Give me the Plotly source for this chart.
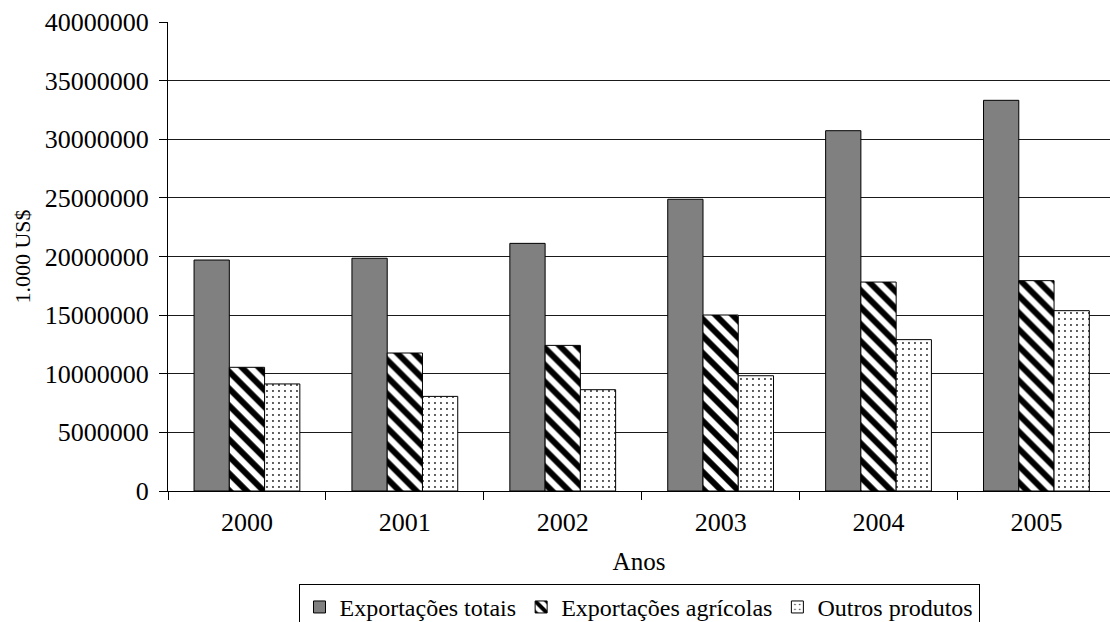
import plotly.graph_objects as go

# Exportações por ano (valores em 1.000 US$)
anos = ["2000", "2001", "2002", "2003", "2004", "2005"]
exportacoes_totais = [19700000, 19850000, 21120000, 24880000, 30730000, 33320000]
exportacoes_agricolas = [10550000, 11770000, 12420000, 15010000, 17820000, 17940000]
outros_produtos = [9130000, 8070000, 8640000, 9830000, 12910000, 15380000]

y_ticks = [0, 5000000, 10000000, 15000000, 20000000, 25000000, 30000000, 35000000, 40000000]

FONT = "Times New Roman"

fig = go.Figure()

fig.add_trace(go.Bar(
    name="Exportações totais",
    x=anos, y=exportacoes_totais,
    marker=dict(color="#808080", line=dict(color="#000000", width=1)),
))
fig.add_trace(go.Bar(
    name="Exportações agrícolas",
    x=anos, y=exportacoes_agricolas,
    marker=dict(
        color="#ffffff",
        line=dict(color="#000000", width=1),
        pattern=dict(shape="\\", fgcolor="#000000", bgcolor="#ffffff",
                     fgopacity=1, size=12, solidity=0.5, fillmode="replace"),
    ),
))
fig.add_trace(go.Bar(
    name="Outros produtos",
    x=anos, y=outros_produtos,
    marker=dict(
        color="#ffffff",
        line=dict(color="#000000", width=1),
        pattern=dict(shape=".", fgcolor="#222222", bgcolor="#ffffff",
                     size=6, solidity=0.08, fillmode="replace"),
    ),
))

fig.update_layout(
    width=1110, height=622,
    margin=dict(l=168, r=0, t=22, b=131, autoexpand=False),
    paper_bgcolor="#ffffff",
    plot_bgcolor="#ffffff",
    font=dict(family=FONT, size=24, color="#000000"),
    barmode="group",
    bargap=0.33,
    bargroupgap=0,
    showlegend=True,
    legend=dict(
        orientation="h",
        x=0.5, xanchor="center",
        y=-0.198, yanchor="top",
        bordercolor="#000000", borderwidth=1,
        bgcolor="#ffffff",
        font=dict(family=FONT, size=24, color="#000000"),
        traceorder="normal",
    ),
    xaxis=dict(
        type="category",
        range=[-0.5, 5.466],
        showline=True, linecolor="#000000", linewidth=1,
        ticks="outside", tickson="boundaries", ticklen=8,
        tickcolor="#000000", tickwidth=1,
        showgrid=False,
        ticklabelstandoff=8,
        title=dict(text="Anos", standoff=16,
                   font=dict(family=FONT, size=25, color="#000000")),
        tickfont=dict(family=FONT, size=26, color="#000000"),
    ),
    yaxis=dict(
        range=[0, 40000000],
        tickvals=y_ticks,
        tickformat="d",
        showline=True, linecolor="#000000", linewidth=1,
        ticks="outside", ticklen=8, tickcolor="#000000", tickwidth=1,
        showgrid=True, gridcolor="#1a1a1a", gridwidth=1,
        zeroline=False,
        ticklabelstandoff=5,
        title=dict(text="1.000 US$", standoff=8,
                   font=dict(family=FONT, size=22, color="#000000")),
        tickfont=dict(family=FONT, size=26, color="#000000"),
    ),
)

fig.write_html("out.html")
